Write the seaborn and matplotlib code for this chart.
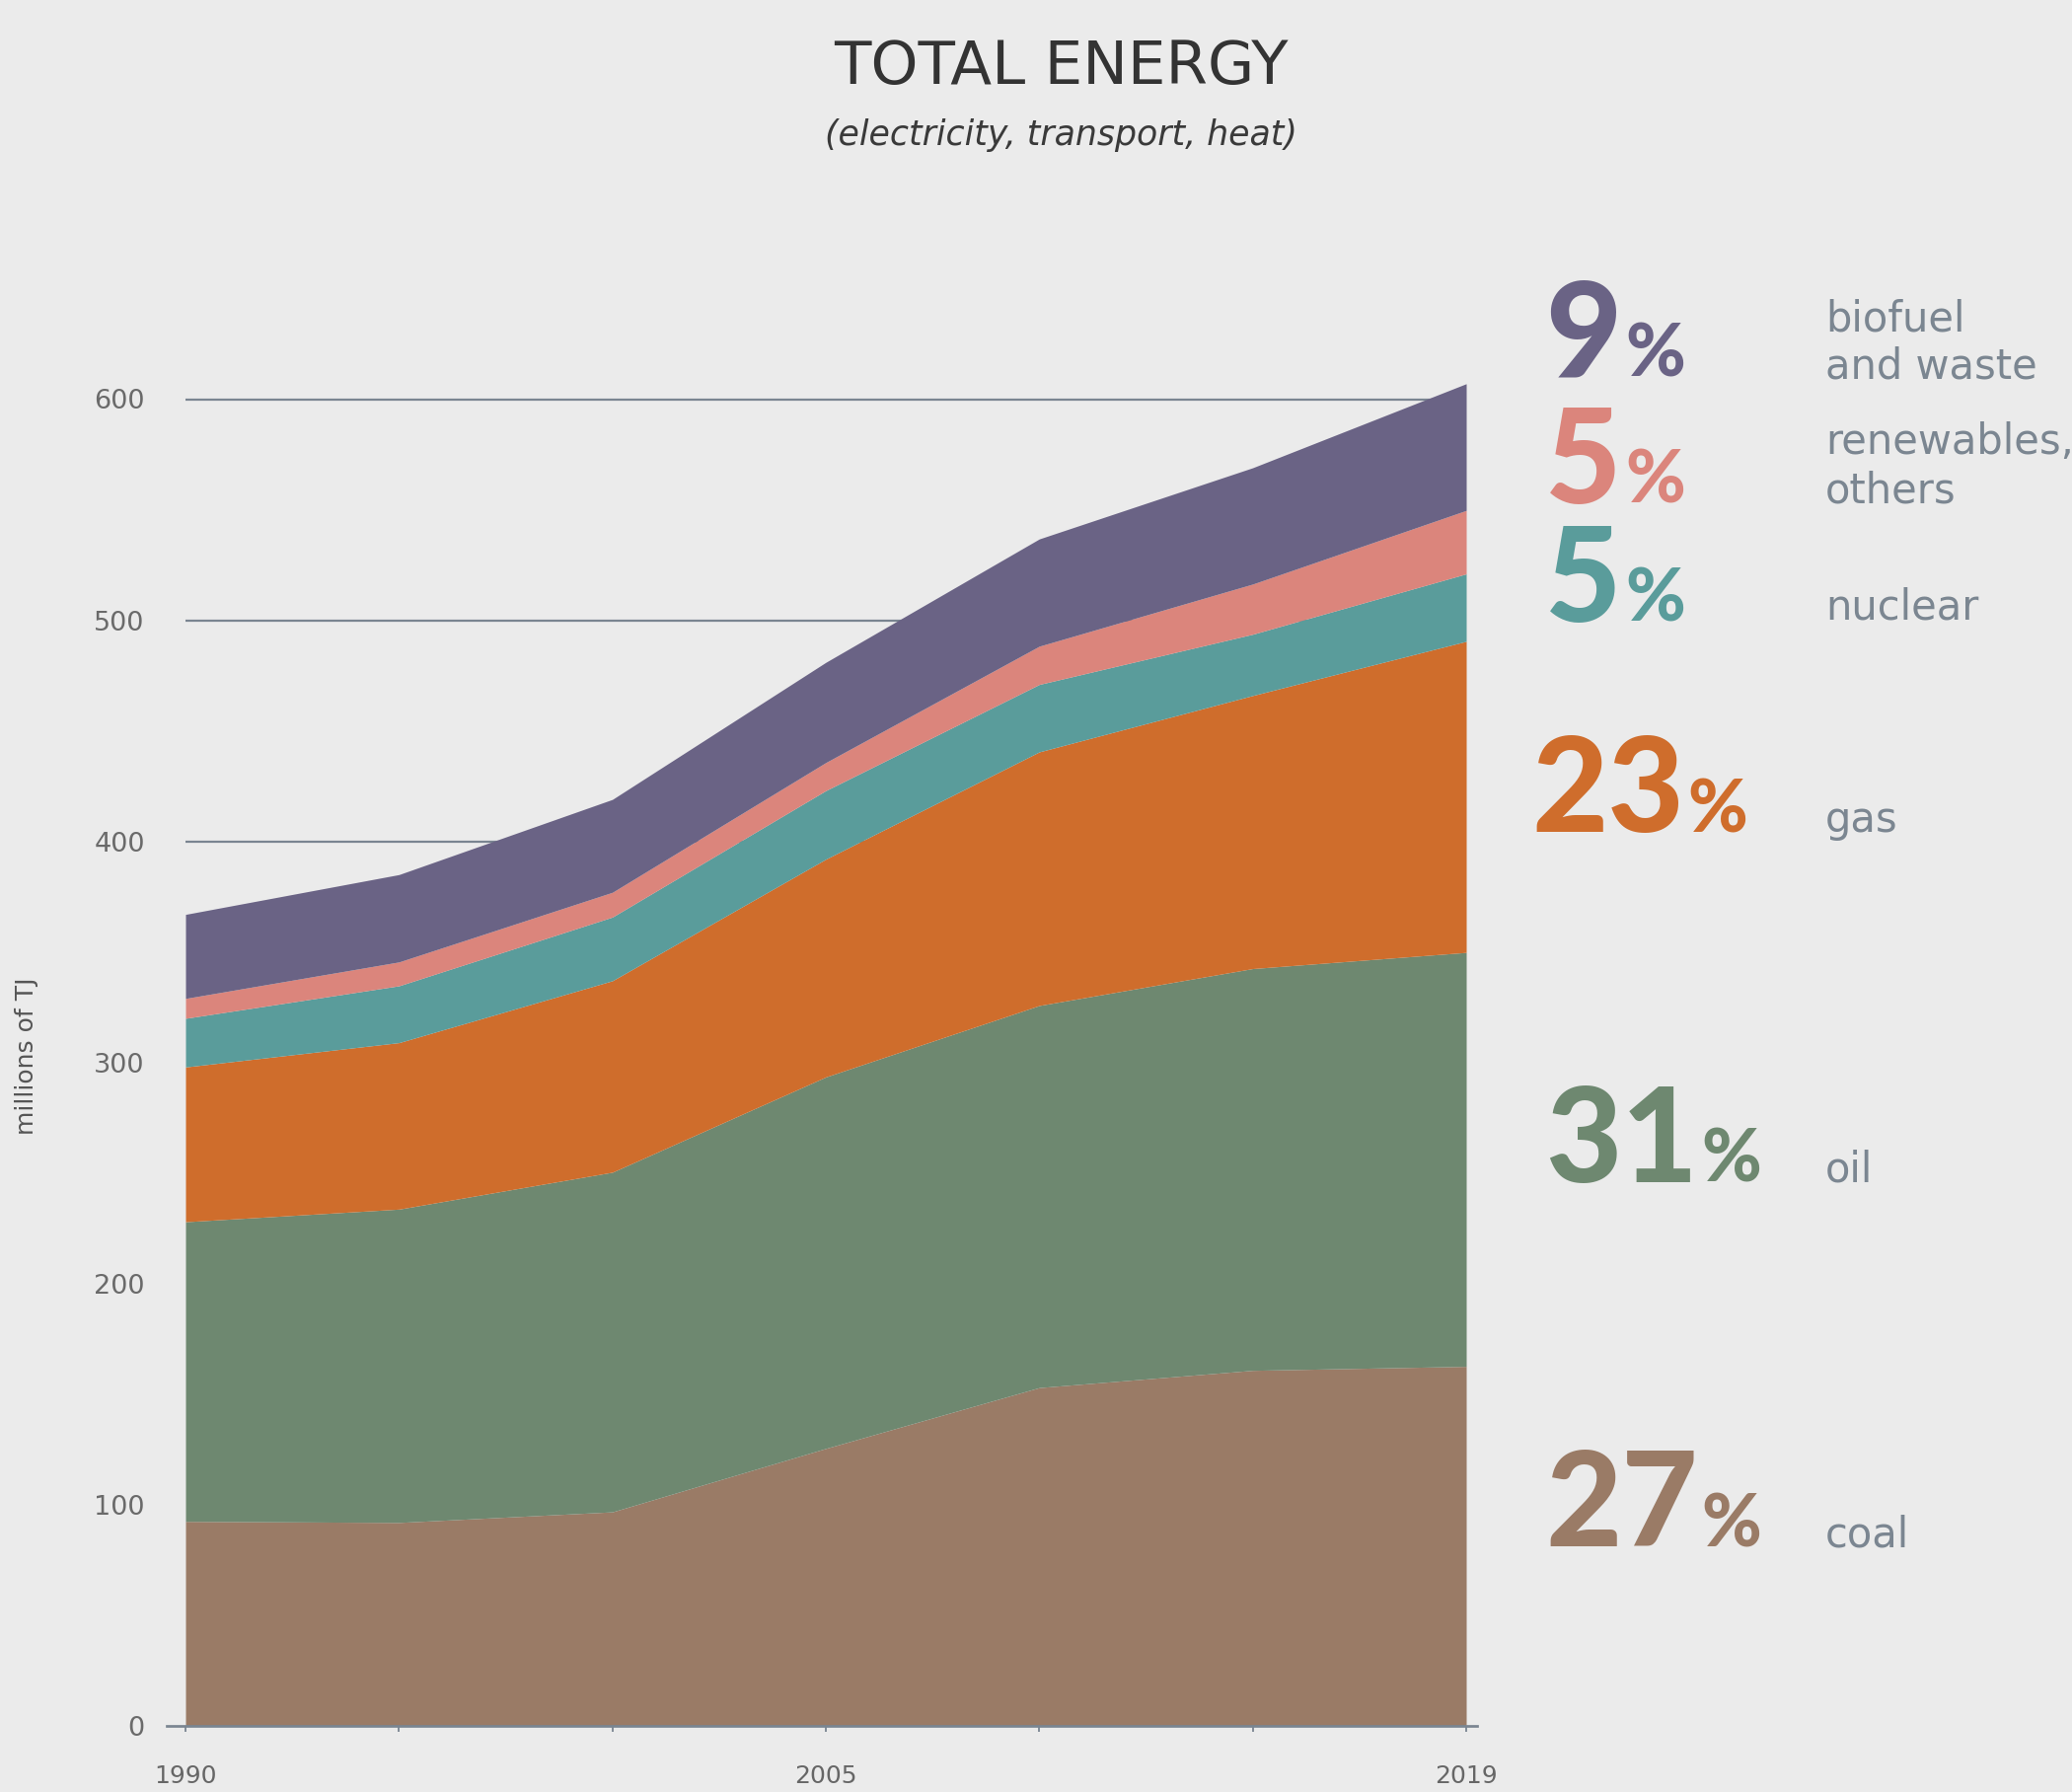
import matplotlib
matplotlib.use("Agg")
import matplotlib.pyplot as plt
import seaborn as sns
import numpy as np

# ---- data (millions of TJ) ----
years = ["1990", "1995", "2000", "2005", "2010", "2015", "2019"]
year_labels = ["1990", "", "", "2005", "", "", "2019"]
coal = [92.5, 92.0, 96.8, 125.5, 153.0, 160.8, 162.6]
oil = [135.5, 141.7, 153.6, 168.0, 172.8, 181.7, 187.2]
gas = [70.0, 75.3, 86.6, 98.5, 114.7, 123.5, 140.7]
nuclear = [22.0, 25.7, 28.8, 31.0, 30.5, 27.7, 30.5]
renewables = [9.0, 10.8, 11.2, 12.7, 17.3, 22.7, 28.7]
biofuel = [38.0, 39.5, 42.0, 45.3, 48.5, 52.6, 57.3]

shares = ["27", "31", "23", "5", "5", "9"]
names = [["coal"], ["oil"], ["gas"], ["nuclear"], ["renewables,", "others"],
         ["biofuel", "and waste"]]
yticks = [0, 100, 200, 300, 400, 500, 600]
grid_vals = [400, 500, 600]

colors = ["#9a7b66", "#6e8870", "#cf6d2c", "#5a9c9b", "#db857c", "#6a6385"]
BG = "#ebebeb"
SLATE = "#7b8691"

sns.set_theme(style="white", rc={"axes.facecolor": BG, "figure.facecolor": BG})
plt.rcParams["font.family"] = ["DejaVu Sans"]

W, H = 2100, 1816
fig = plt.figure(figsize=(W / 100, H / 100), dpi=100)

def fx(x):
    return x / W

def fy(y):
    return 1 - y / H

# axes placement (pixel-based)
left_px, right_px, bottom_px = 169, 1497, 1749
ymax = 620
px_per_unit_y = (1749 - 404.5) / 600.0
top_px = bottom_px - ymax * px_per_unit_y
ax = fig.add_axes([fx(left_px), fy(bottom_px), (right_px - left_px) / W,
                   (bottom_px - top_px) / H])
ax.set_facecolor(BG)

xpos = np.arange(len(years))
px_per_unit_x = (1486 - 188) / 6.0
ax.set_xlim(-(188 - left_px) / px_per_unit_x, 6 + (right_px - 1486) / px_per_unit_x)
ax.set_ylim(0, ymax)

# gridlines behind areas
ax.hlines(grid_vals, 0, 6, colors="#7a8591", linewidth=1.6, zorder=1)

ax.stackplot(xpos, coal, oil, gas, nuclear, renewables, biofuel,
             colors=colors, linewidth=0, zorder=2)

for s in ["left", "right", "top"]:
    ax.spines[s].set_visible(False)
ax.spines["bottom"].set_color("#7a8591")
ax.spines["bottom"].set_linewidth(1.95)
ax.spines["bottom"].set_zorder(3)

ax.set_xticks(xpos)
ax.set_xticklabels(year_labels)
ax.tick_params(axis="x", length=4, width=1.3, color="#7a8591",
               labelsize=18, labelcolor="#666666", pad=24, direction="out",
               bottom=True)
ax.set_yticks(yticks)
ax.set_yticklabels([str(v) for v in yticks])
ax.tick_params(axis="y", length=0, labelsize=19.5, labelcolor="#6a6a6a", pad=16)
ax.grid(False)

# y label
fig.text(fx(27), fy(1070), "millions of TJ", rotation=90, ha="center",
         va="center", fontsize=18, color="#555555")

# title
fig.text(fx(1075), fy(69), "TOTAL ENERGY", ha="center", va="center",
         fontsize=44, color="#333333", fontweight="normal")
fig.text(fx(1075), fy(137), "(electricity, transport, heat)", ha="center",
         va="center", fontsize=25, color="#3a3a3a", style="italic")

# right-side annotations
num_baselines = [1567, 1198, 843, 630, 510, 381]
num_left = [1566, 1566, 1552, 1566, 1566, 1566]
name_baselines = [[1568], [1198], [843], [628], [460, 510], [335, 384]]

fig.canvas.draw()
renderer = fig.canvas.get_renderer()
for i in range(6):
    t = fig.text(fx(num_left[i]), fy(num_baselines[i]), shares[i],
                 ha="left", va="baseline", fontsize=96, fontweight="black",
                 color=colors[i], family=["Lato", "DejaVu Sans"])
    bb = t.get_window_extent(renderer=renderer)
    fig.text((bb.x1 + 4) / W, fy(num_baselines[i]), "%", ha="left",
             va="baseline", fontsize=53, fontweight="black", color=colors[i],
             family=["Lato", "DejaVu Sans"])
    for line, yb in zip(names[i], name_baselines[i]):
        fig.text(fx(1850), fy(yb), line, ha="left", va="baseline",
                 fontsize=30, color=SLATE, fontweight="medium")

fig.savefig("out.png", dpi=100, facecolor=BG)
